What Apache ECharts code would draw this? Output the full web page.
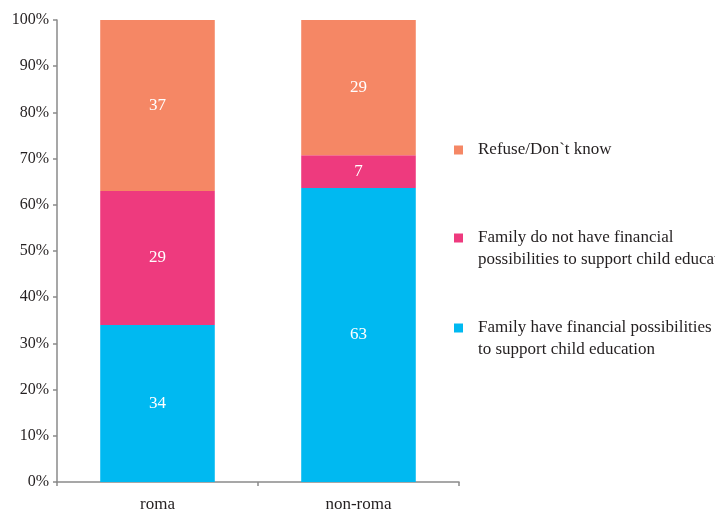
<!DOCTYPE html>
<html>
<head>
<meta charset="utf-8">
<script src="https://cdn.jsdelivr.net/npm/echarts@6/dist/echarts.min.js"></script>
<style>
  html, body { margin: 0; padding: 0; background: #fff; }
  #main { width: 715px; height: 511px; }
</style>
</head>
<body>
<div id="main"></div>
<script>
var categories = ['roma', 'non-roma'];
var seriesNames = [
  'Family have financial possibilities\nto support child education',
  'Family do not have financial\npossibilities to support child education',
  'Refuse/Don`t know'
];
var haveValues = [34, 63];
var haveNotValues = [29, 7];
var refuseValues = [37, 29];
var yTicks = [0, 10, 20, 30, 40, 50, 60, 70, 80, 90, 100];

var colors = ['#00b9f1', '#ee3a7e', '#f58765'];
var allValues = [haveValues, haveNotValues, refuseValues];

// totals per category, used to turn counts into 100% stacks
var totals = categories.map(function (c, i) {
  return haveValues[i] + haveNotValues[i] + refuseValues[i];
});

var font = '"Liberation Serif", "DejaVu Serif", serif';
var textColor = '#231f20';

var myChart = echarts.init(document.getElementById('main'));

var series = allValues.map(function (vals, s) {
  return {
    name: seriesNames[s],
    type: 'bar',
    stack: 'total',
    barWidth: '57%',
    itemStyle: { color: colors[s] },
    label: {
      show: true,
      position: 'inside',
      color: '#fff',
      fontFamily: font,
      fontSize: 17,
      formatter: function (p) { return vals[p.dataIndex]; }
    },
    data: vals.map(function (v, i) { return v / totals[i] * 100; })
  };
});

// one legend per item, so each sits at its own height;
// two-line items get an empty first line so the square lines up with the first text line
var legendTops = [295, 205, 139];
var legends = seriesNames.map(function (n, s) {
  return {
    data: [n],
    left: 454,
    top: legendTops[s],
    padding: 0,
    itemWidth: 9,
    itemHeight: 9,
    icon: 'rect',
    selectedMode: false,
    formatter: function (name) {
      return name.indexOf('\n') >= 0 ? '\n' + name : name;
    },
    textStyle: {
      fontFamily: font,
      fontSize: 17,
      color: textColor,
      lineHeight: 22,
      padding: [0, 0, 0, 10]
    }
  };
});

option = {
  animation: false,
  color: colors,
  grid: { left: 57, right: 256, top: 20, bottom: 29, outerBoundsMode: 'none', containLabel: false },
  legend: legends,
  xAxis: {
    type: 'category',
    data: categories,
    axisLine: { lineStyle: { color: '#8a8a8a', width: 1.5 } },
    axisTick: { show: true, length: 4, lineStyle: { color: '#8a8a8a', width: 1.5 } },
    axisLabel: { fontFamily: font, fontSize: 17, color: textColor, margin: 14 }
  },
  yAxis: {
    type: 'value',
    min: yTicks[0],
    max: yTicks[yTicks.length - 1],
    interval: 10,
    splitLine: { show: false },
    axisLine: { show: true, lineStyle: { color: '#8a8a8a', width: 1.5 } },
    axisTick: { show: true, length: 4, lineStyle: { color: '#8a8a8a', width: 1.5 } },
    axisLabel: {
      fontFamily: font, fontSize: 16, color: textColor, margin: 8,
      formatter: '{value}%'
    }
  },
  series: series
};

myChart.setOption(option);
</script>
</body>
</html>
